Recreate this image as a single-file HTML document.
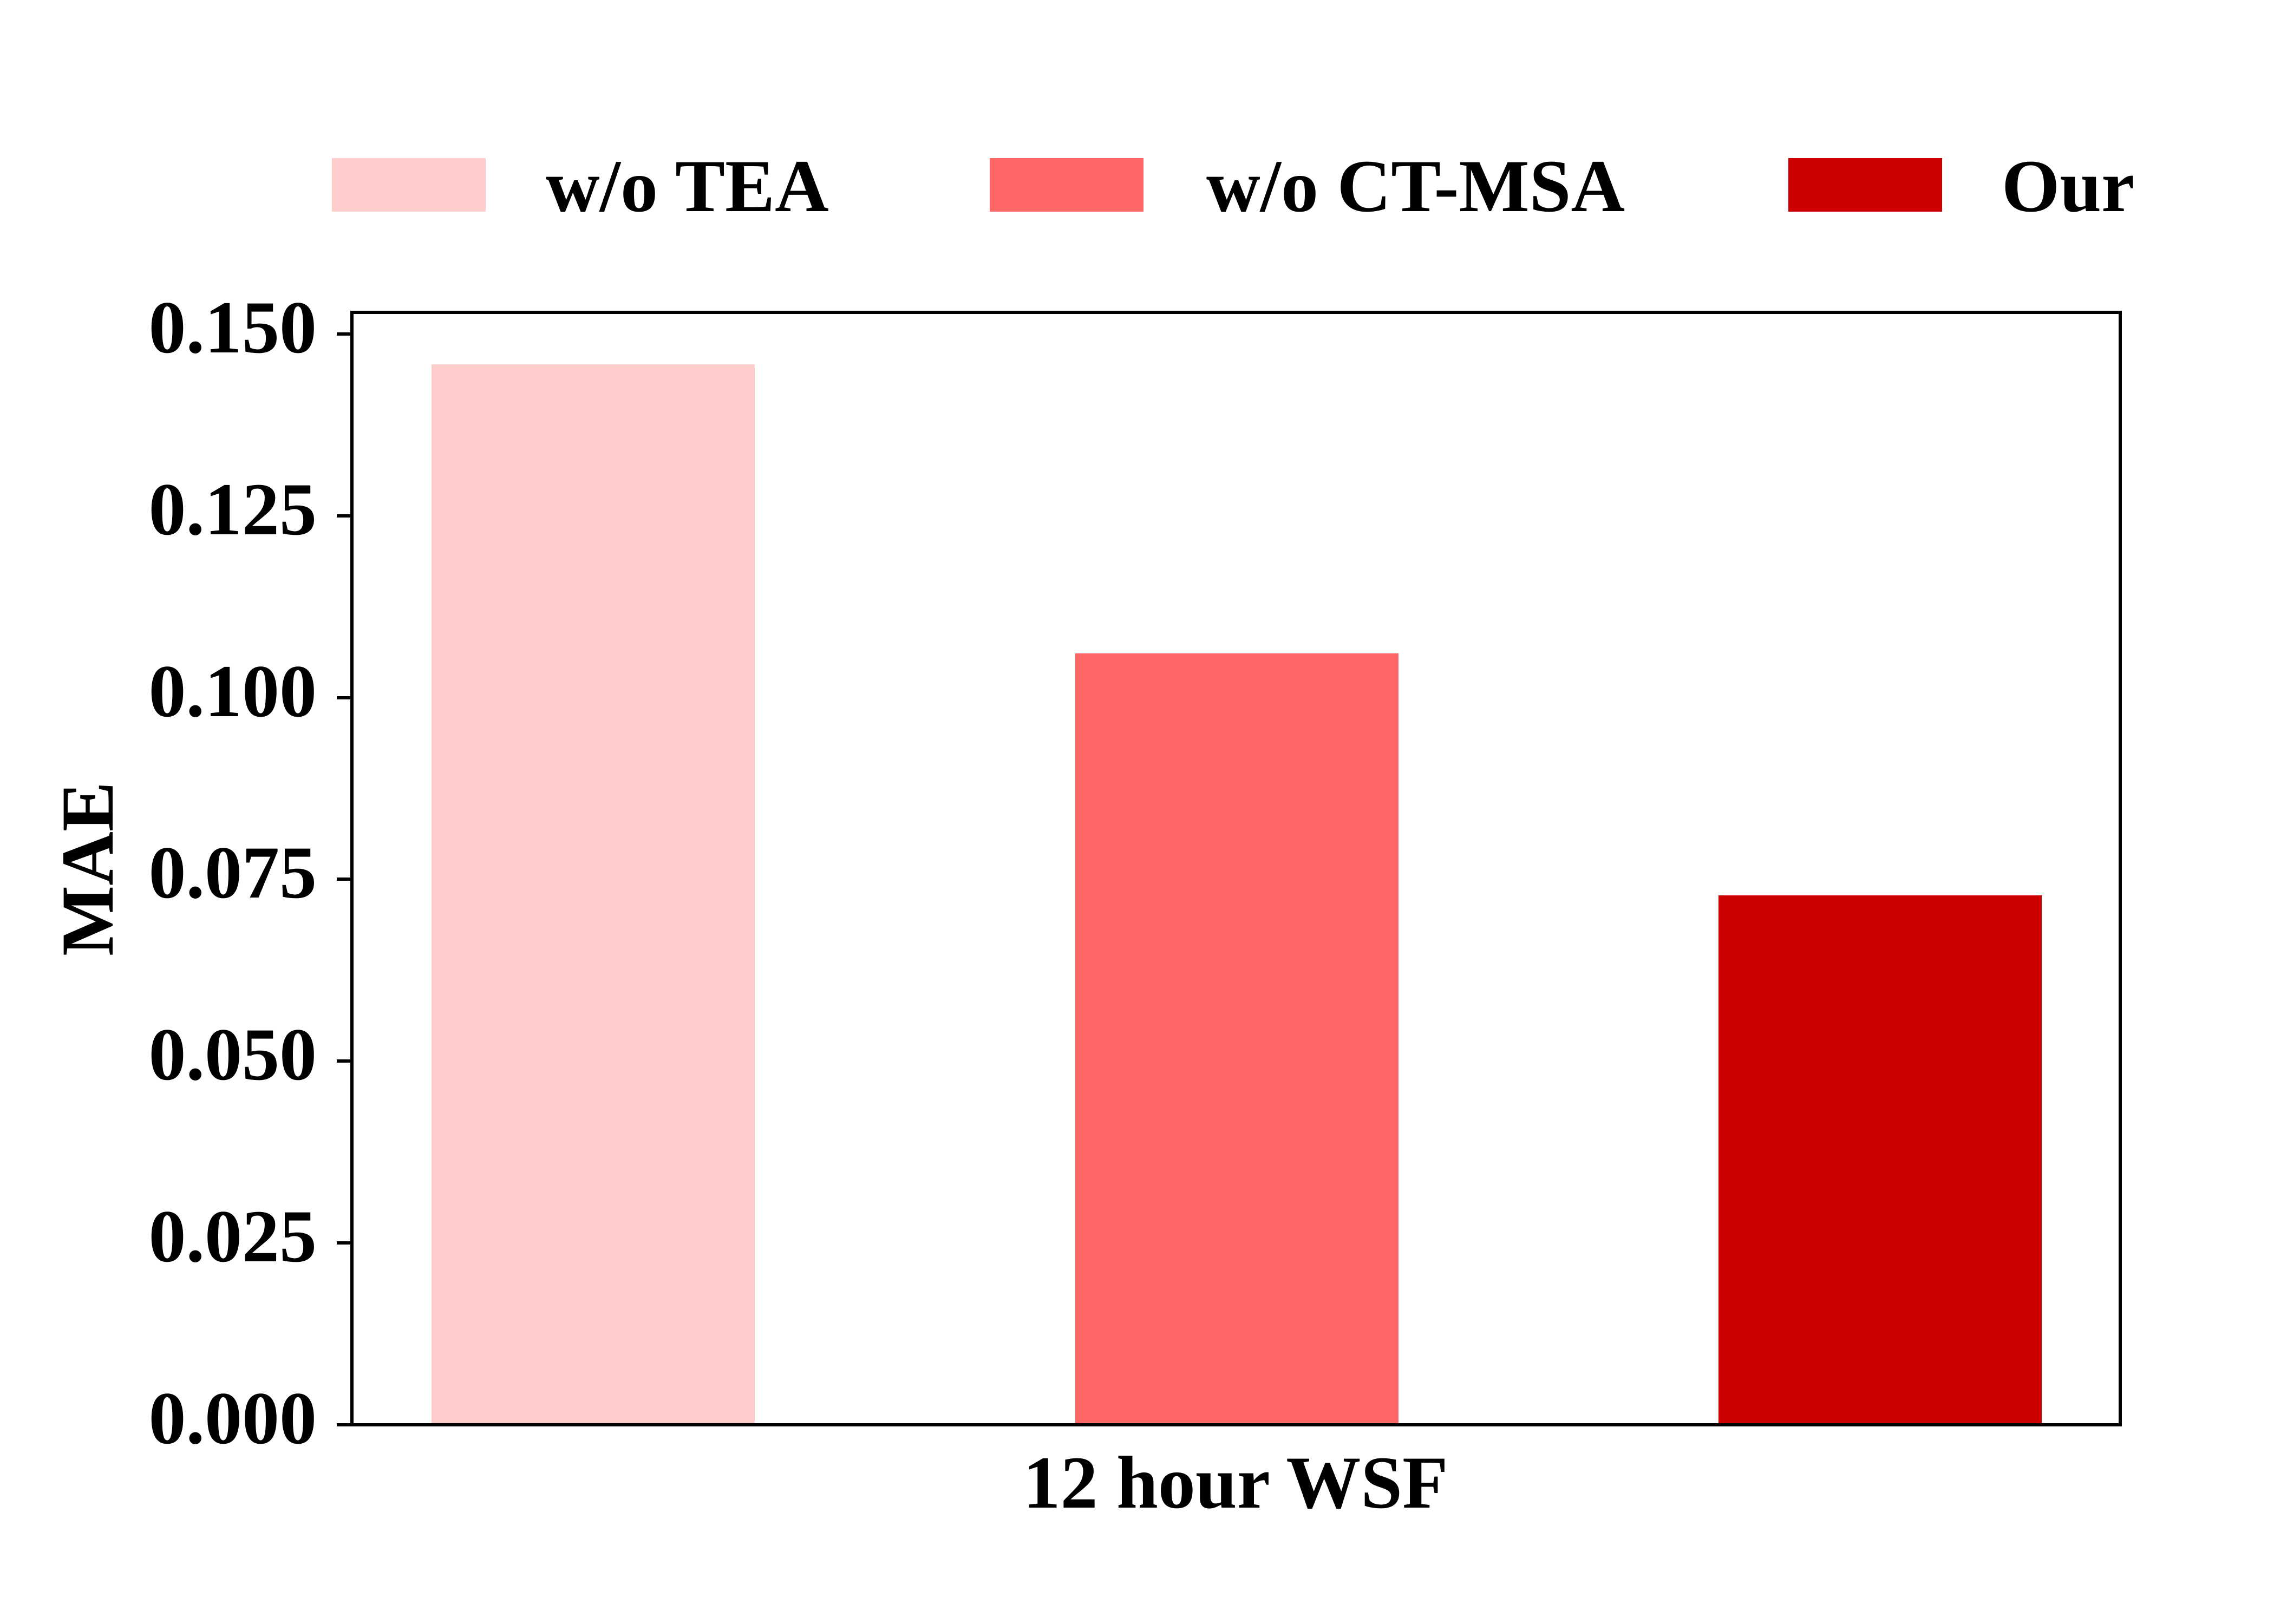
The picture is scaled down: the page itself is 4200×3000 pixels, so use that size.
<!DOCTYPE html>
<html><head><style>
html,body{margin:0;padding:0;background:#fff;}
svg{display:block;}
text{font-family:"Liberation Serif",serif;font-weight:bold;fill:#000;}
</style></head><body>
<svg width="4200" height="3000" viewBox="0 0 4200 3000" xmlns="http://www.w3.org/2000/svg">
<rect width="4200" height="3000" fill="#fff"/>
<!-- bars -->
<rect x="797" y="673" width="597" height="1959" fill="#FFCCCC"/>
<rect x="1986" y="1207" width="597" height="1425" fill="#FF6666"/>
<rect x="3174" y="1654" width="597" height="978" fill="#CC0000"/>
<!-- axes -->
<rect x="650" y="577" width="3266" height="2055" fill="none" stroke="#000" stroke-width="6"/>
<g stroke="#000" stroke-width="6">
<line x1="622" y1="2632" x2="650" y2="2632"/>
<line x1="622" y1="2296" x2="650" y2="2296"/>
<line x1="622" y1="1960" x2="650" y2="1960"/>
<line x1="622" y1="1624" x2="650" y2="1624"/>
<line x1="622" y1="1289" x2="650" y2="1289"/>
<line x1="622" y1="953" x2="650" y2="953"/>
<line x1="622" y1="617" x2="650" y2="617"/>
</g>
<g font-size="138" text-anchor="end">
<text x="585" y="2666">0.000</text>
<text x="585" y="2330">0.025</text>
<text x="585" y="1994">0.050</text>
<text x="585" y="1658">0.075</text>
<text x="585" y="1323">0.100</text>
<text x="585" y="987">0.125</text>
<text x="585" y="651">0.150</text>
</g>
<text x="2282" y="2785" font-size="138" text-anchor="middle">12 hour WSF</text>
<text transform="translate(208,1605) rotate(-90)" font-size="138" text-anchor="middle">MAE</text>
<!-- legend -->
<rect x="613" y="292" width="284" height="99" fill="#FFCCCC"/>
<rect x="1828" y="292" width="284" height="99" fill="#FF6666"/>
<rect x="3303" y="292" width="284" height="99" fill="#CC0000"/>
<g font-size="138">
<text x="1008" y="390">w/o TEA</text>
<text x="2228" y="390">w/o CT-MSA</text>
<text x="3697" y="390">Our</text>
</g>
</svg>
</body></html>
